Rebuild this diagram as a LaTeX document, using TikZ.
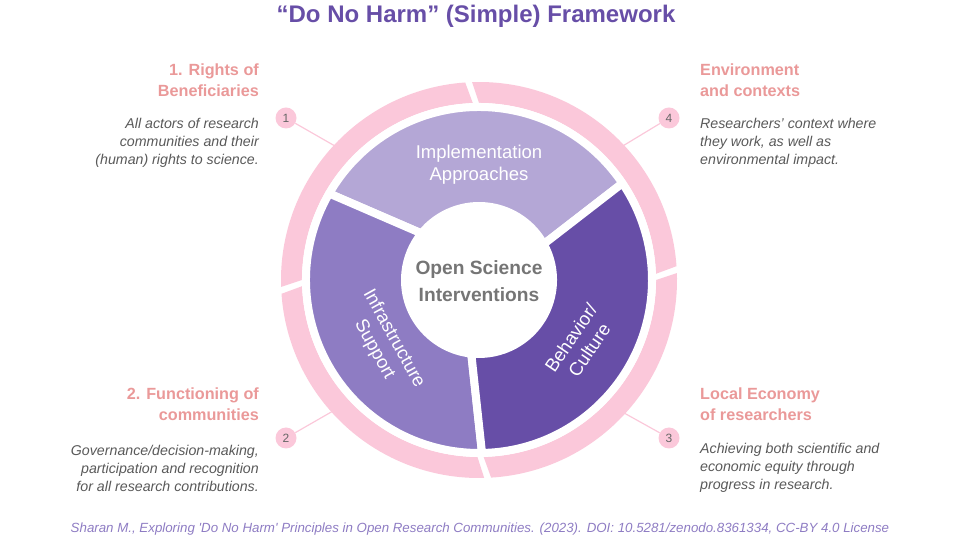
\documentclass[tikz,border=0pt]{standalone}
\usepackage{fontspec}
\setmainfont{Liberation Sans}
\usepackage{tikz}
\usetikzlibrary{positioning, calc}
\definecolor{titlecol}{HTML}{674EA7}
\definecolor{headcol}{HTML}{EA9999}
\definecolor{desccol}{HTML}{595959}
\definecolor{ringpink}{HTML}{FBC8DA}
\definecolor{numcol}{HTML}{666666}
\definecolor{centcol}{HTML}{757575}
\definecolor{implcol}{HTML}{B4A7D6}
\definecolor{infracol}{HTML}{8E7CC3}
\definecolor{behavcol}{HTML}{674EA7}
\definecolor{footcol}{HTML}{8E7CC3}

\begin{document}
\begin{tikzpicture}[x=1pt, y=1pt,
    head/.style={font=\bfseries\fontsize{16.2}{21}\selectfont, text=headcol, inner sep=0pt},
    desc/.style={font=\itshape\fontsize{14.2}{18}\selectfont, text=desccol, inner sep=0pt},
    seg/.style={draw=white, line width=8pt, line join=round},
    num/.style={circle, fill=ringpink, minimum size=21pt, inner sep=0pt,
      font=\fontsize{12}{12}\selectfont, text=numcol},
    lnk/.style={draw=ringpink, line width=1.2pt},
    segtext/.style={text=white, font=\fontsize{18.5}{22}\selectfont, align=center, inner sep=0pt}]
\useasboundingbox (0,0) rectangle (960,540);
\coordinate (C) at (479,260);

% --- Title ---
\node[font=\bfseries\fontsize{24}{26}\selectfont, text=titlecol] (title) at (476,524)
  {“Do No Harm” (Simple) Framework};

% --- Number markers and leader lines ---
\node[num] (n1) at (286,422) {1};
\node[num] (n4) at (669,422) {4};
\node[num] (n2) at (286,102) {2};
\node[num] (n3) at (669,102) {3};
\coordinate (e1) at ($(C)+(136.6:190)$);
\coordinate (e4) at ($(C)+(43.4:190)$);
\coordinate (e2) at ($(C)+(222.3:190)$);
\coordinate (e3) at ($(C)+(317:190)$);
\foreach \t in {1,2,3,4}{\draw[lnk](n\t) -- (e\t);}

% --- Outer ring ---
\begin{scope}[shift={(C)}]
\foreach \a/\b in {1/91, 91/181, 181/270.5, 270.5/361}{
  \fill[ringpink] (\a+1:177) -- (\a+3:198) arc[start angle=\a+3, end angle=\b+1, radius=198]
    -- (\b-1:177) arc[start angle=\b-1, end angle=\a+1, radius=177] -- cycle;
}

% --- Intervention segments ---
\filldraw[seg, fill=implcol] (29:74) -- (34:173) arc[start angle=34, end angle=150, radius=173]
  -- (141:74) arc[start angle=141, end angle=29, radius=74] -- cycle;
\filldraw[seg, fill=infracol] (141:74) -- (150:173) arc[start angle=150, end angle=271, radius=173]
  -- (264:74) arc[start angle=264, end angle=141, radius=74] -- cycle;
\filldraw[seg, fill=behavcol] (264:74) -- (271:173) arc[start angle=271, end angle=394, radius=173]
  -- (389:74) arc[start angle=389, end angle=264, radius=74] -- cycle;
\end{scope}

\node[font=\bfseries\fontsize{19.2}{27}\selectfont, text=centcol, align=center, yshift=-1.5pt] (core) at (C)
  {Open Science\\Interventions};
\node[segtext] (impl) at (479,375.5) {Implementation\\Approaches};
\node[segtext, rotate=-61] (infra) at (384,196) {Infrastructure\\Support};
\node[segtext, rotate=56] (behav) at (580,196) {Behavior/\\Culture};

% --- Left side ---
\node[head, anchor=east, align=right] (h1) at (259,460) {1. Rights of\\Beneficiaries};
\node[desc, anchor=east, align=right] (d1) at (259,397)
  {All actors of research\\communities and their\\(human) rights to science.};
\node[head, anchor=east, align=right] (h2) at (259,135.5) {2. Functioning of\\communities};
\node[desc, anchor=east, align=right] (d2) at (259,72)
  {Governance/decision-making,\\participation and recognition\\for all research contributions.};

% --- Right side ---
\node[head, anchor=west, align=left] (h4) at (700,460) {Environment\\and contexts};
\node[desc, anchor=west, align=left] (d4) at (700,397)
  {Researchers’ context where\\they work, as well as\\environmental impact.};
\node[head, anchor=west, align=left] (h3) at (700,135.5) {Local Economy\\of researchers};
\node[desc, anchor=west, align=left] (d3) at (700,72)
  {Achieving both scientific and\\economic equity through\\progress in research.};

% --- Footer ---
\node[font=\itshape\fontsize{13.3}{15}\selectfont, text=footcol] (foot) at (480,11)
  {Sharan M., Exploring \textquotesingle Do No Harm\textquotesingle{} Principles in Open Research Communities. (2023). DOI: 10.5281/zenodo.8361334, CC-BY 4.0 License};
\end{tikzpicture}
\end{document}
